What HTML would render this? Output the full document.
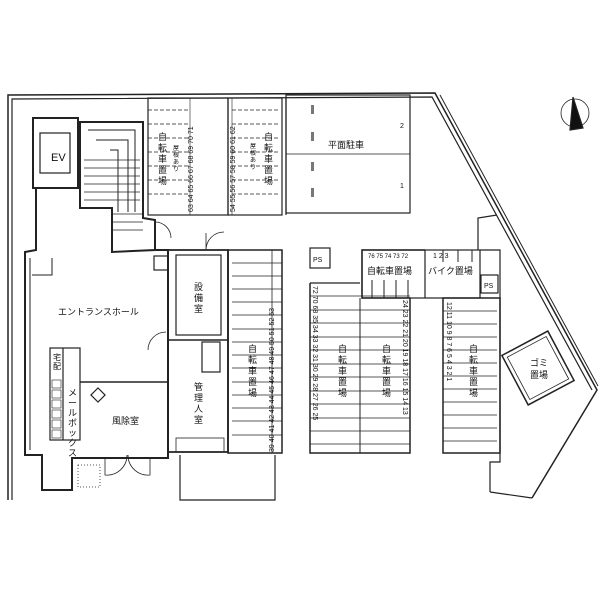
<!DOCTYPE html>
<html><head><meta charset="utf-8"><style>
html,body{margin:0;padding:0;background:#fff}
svg{display:block}
text{font-family:"Liberation Sans","Noto Sans CJK JP",sans-serif;fill:#111;stroke:none}
</style></head><body>
<svg width="600" height="600" viewBox="0 0 600 600" xmlns="http://www.w3.org/2000/svg" stroke="#222" fill="none" stroke-width="1.2">
<path d="M8,500 L8,95 L435,93 L597,390 L532,498" stroke-width="1.5"/>
<path d="M12,500 L12,99 L432,97 L592,390"/>
<path d="M440,95 L598,386" stroke-width="1"/>
<circle cx="575" cy="113" r="14" stroke-width="0.8"/>
<path d="M573,97 L583,128 L570,130 Z" fill="#111"/>
<!-- top bike area 1 -->
<rect x="148" y="98" width="80" height="117"/>
<g stroke-width="0.8" stroke-dasharray="4,2">
<line x1="148" y1="110" x2="190" y2="110"/><line x1="148" y1="124" x2="190" y2="124"/><line x1="148" y1="138" x2="190" y2="138"/><line x1="148" y1="152" x2="190" y2="152"/><line x1="148" y1="166" x2="190" y2="166"/><line x1="148" y1="180" x2="190" y2="180"/><line x1="148" y1="194" x2="190" y2="194"/>
<line x1="232" y1="110" x2="280" y2="110"/><line x1="232" y1="124" x2="280" y2="124"/><line x1="232" y1="138" x2="280" y2="138"/><line x1="232" y1="152" x2="280" y2="152"/><line x1="232" y1="166" x2="280" y2="166"/><line x1="232" y1="180" x2="280" y2="180"/><line x1="232" y1="194" x2="280" y2="194"/>
</g>
<line x1="190" y1="98" x2="190" y2="215" stroke-width="0.6"/>
<line x1="232" y1="98" x2="232" y2="215" stroke-width="0.6"/>
<rect x="228" y="98" width="54" height="117"/>
<line x1="286" y1="98" x2="286" y2="215"/>
<text x="158" y="140" font-size="9"><tspan x="158">自</tspan><tspan x="158" dy="11">転</tspan><tspan x="158" dy="11">車</tspan><tspan x="158" dy="11">置</tspan><tspan x="158" dy="11">場</tspan></text>
<text x="173" y="150" font-size="6"><tspan x="173">屋</tspan><tspan x="173" dy="7">根</tspan><tspan x="173" dy="7">あ</tspan><tspan x="173" dy="7">り</tspan></text>
<text x="264" y="140" font-size="9"><tspan x="264">自</tspan><tspan x="264" dy="11">転</tspan><tspan x="264" dy="11">車</tspan><tspan x="264" dy="11">置</tspan><tspan x="264" dy="11">場</tspan></text>
<text x="250" y="148" font-size="6"><tspan x="250">屋</tspan><tspan x="250" dy="7">根</tspan><tspan x="250" dy="7">あ</tspan><tspan x="250" dy="7">り</tspan></text>
<text transform="translate(193,212) rotate(-90)" font-size="7">63 64 65 66 67 68 69 70 71</text>
<text transform="translate(235,212) rotate(-90)" font-size="7">54 55 56 57 58 59 60 61 62</text>
<!-- parking -->
<rect x="286" y="95" width="124" height="118"/>
<line x1="286" y1="154" x2="410" y2="154" stroke-width="0.8"/>
<g fill="#777" stroke="none"><rect x="311" y="105" width="3" height="9"/><rect x="311" y="132" width="3" height="9"/><rect x="311" y="162" width="3" height="9"/><rect x="311" y="188" width="3" height="9"/></g>
<text x="328" y="148" font-size="9">平面駐車</text>
<text x="400" y="128" font-size="7">2</text>
<text x="400" y="188" font-size="7">1</text>
<!-- core -->
<rect x="33" y="118" width="45" height="70" stroke-width="2"/>
<rect x="40" y="133" width="30" height="40"/>
<text x="51" y="161" font-size="11">EV</text>
<path d="M80,122 L143,122 L143,218 L155,220 L155,250 L112,252 L112,208 L80,208 Z" stroke-width="2"/>
<path d="M88,130 L135,130 L135,212 M96,140 L128,140 L128,212 M110,150 L118,150 L118,212" stroke-width="1"/>
<g stroke-width="0.7"><line x1="84" y1="160" x2="140" y2="160"/><line x1="84" y1="168" x2="140" y2="168"/><line x1="84" y1="176" x2="140" y2="176"/><line x1="84" y1="184" x2="140" y2="184"/><line x1="84" y1="192" x2="140" y2="192"/><line x1="84" y1="200" x2="140" y2="200"/><line x1="112" y1="214" x2="143" y2="214"/><line x1="112" y1="222" x2="143" y2="222"/><line x1="112" y1="230" x2="143" y2="230"/></g>
<!-- hall -->
<path d="M36,188 L36,250 L25,252 L25,455 L42,455 L42,490 L72,490 L72,458 L168,458 L168,250 L155,250" stroke-width="2"/>
<path d="M30,258 L30,450 M52,258 L52,275 L32,275" stroke-width="1"/>
<text x="58" y="315" font-size="9">エントランスホール</text>
<rect x="50" y="348" width="30" height="92" stroke-width="1.2"/>
<line x1="63" y1="348" x2="63" y2="440"/>
<g stroke-width="0.6"><rect x="52" y="380" width="9" height="8"/><rect x="52" y="390" width="9" height="8"/><rect x="52" y="400" width="9" height="8"/><rect x="52" y="410" width="9" height="8"/><rect x="52" y="420" width="9" height="8"/><rect x="52" y="430" width="9" height="8"/></g>
<text x="53" y="360" font-size="8"><tspan x="53">宅</tspan><tspan x="53" dy="9">配</tspan></text>
<text x="68" y="396" font-size="9"><tspan x="68">メ</tspan><tspan x="68" dy="10">ー</tspan><tspan x="68" dy="10">ル</tspan><tspan x="68" dy="10">ボ</tspan><tspan x="68" dy="10">ッ</tspan><tspan x="68" dy="10">ク</tspan><tspan x="68" dy="10">ス</tspan></text>
<path d="M80,382 L168,382" stroke-width="1.5"/>
<rect x="93" y="390" width="10" height="10" transform="rotate(45 98 395)"/>
<text x="112" y="424" font-size="9">風除室</text>
<path d="M105,458 L105,475 A20,20 0 0 0 127,455 M150,458 L150,475 A20,20 0 0 1 128,455" stroke-width="0.8"/>
<rect x="78" y="465" width="22" height="22" stroke-width="0.8" stroke-dasharray="1,2"/>
<!-- rooms -->
<path d="M168,250 L228,250 L228,452 L168,452" stroke-width="1.8"/>
<rect x="176" y="255" width="45" height="80"/>
<text x="194" y="290" font-size="9"><tspan x="194">設</tspan><tspan x="194" dy="11">備</tspan><tspan x="194" dy="11">室</tspan></text>
<line x1="168" y1="340" x2="228" y2="340" stroke-width="1.5"/>
<rect x="202" y="342" width="18" height="30"/>
<text x="194" y="390" font-size="9"><tspan x="194">管</tspan><tspan x="194" dy="11">理</tspan><tspan x="194" dy="11">人</tspan><tspan x="194" dy="11">室</tspan></text>
<rect x="176" y="438" width="48" height="14" stroke-width="0.8"/>
<path d="M180,455 L180,500 L275,500 L275,455"/>
<path d="M148,350 A18,18 0 0 1 166,332 M206,233 L206,250 A18,18 0 0 1 224,232" stroke-width="0.8"/>
<path d="M155,222 A16,16 0 0 1 171,238" stroke-width="0.8"/>
<rect x="154" y="256" width="14" height="14"/>
<!-- bike area A -->
<rect x="228" y="250" width="54" height="203" stroke-width="1.5"/>
<line x1="272" y1="250" x2="272" y2="453" stroke-width="0.8"/>
<g stroke-width="0.8">
<line x1="232" y1="263" x2="282" y2="263"/><line x1="232" y1="276" x2="282" y2="276"/><line x1="232" y1="289" x2="282" y2="289"/><line x1="232" y1="302" x2="282" y2="302"/><line x1="232" y1="315" x2="282" y2="315"/><line x1="232" y1="329" x2="282" y2="329"/><line x1="232" y1="342" x2="282" y2="342"/><line x1="232" y1="355" x2="282" y2="355"/><line x1="232" y1="368" x2="282" y2="368"/><line x1="232" y1="382" x2="282" y2="382"/><line x1="232" y1="395" x2="282" y2="395"/><line x1="232" y1="408" x2="282" y2="408"/><line x1="232" y1="421" x2="282" y2="421"/><line x1="232" y1="435" x2="282" y2="435"/>
</g>
<text x="248" y="352" font-size="9"><tspan x="248">自</tspan><tspan x="248" dy="11">転</tspan><tspan x="248" dy="11">車</tspan><tspan x="248" dy="11">置</tspan><tspan x="248" dy="11">場</tspan></text>
<text transform="translate(274,452) rotate(-90)" font-size="7">39 40 41 42 43 44 45 46 47 48 49 50 51 52 53</text>
<!-- middle -->
<path d="M310,283 L310,453 L410,453 L410,298 L362,298 L362,250 L425,250" stroke-width="1.5"/>
<line x1="360" y1="298" x2="360" y2="453" stroke-width="1"/>
<line x1="310" y1="283" x2="360" y2="283"/>
<g stroke-width="0.8">
<line x1="310" y1="296" x2="410" y2="296"/><line x1="310" y1="310" x2="410" y2="310"/><line x1="310" y1="323" x2="410" y2="323"/><line x1="310" y1="337" x2="410" y2="337"/><line x1="310" y1="350" x2="410" y2="350"/><line x1="310" y1="364" x2="410" y2="364"/><line x1="310" y1="377" x2="410" y2="377"/><line x1="310" y1="391" x2="410" y2="391"/><line x1="310" y1="404" x2="410" y2="404"/><line x1="310" y1="418" x2="410" y2="418"/><line x1="310" y1="431" x2="410" y2="431"/><line x1="310" y1="444" x2="410" y2="444"/>
</g>
<rect x="310" y="248" width="20" height="20"/>
<text x="313" y="262" font-size="7">PS</text>
<text x="338" y="352" font-size="9"><tspan x="338">自</tspan><tspan x="338" dy="11">転</tspan><tspan x="338" dy="11">車</tspan><tspan x="338" dy="11">置</tspan><tspan x="338" dy="11">場</tspan></text>
<text x="382" y="352" font-size="9"><tspan x="382">自</tspan><tspan x="382" dy="11">転</tspan><tspan x="382" dy="11">車</tspan><tspan x="382" dy="11">置</tspan><tspan x="382" dy="11">場</tspan></text>
<text transform="translate(313,286) rotate(90)" font-size="7">72 70 68 35 34 33 32 31 30 29 28 27 26 25</text>
<text transform="translate(403,300) rotate(90)" font-size="7">24 23 22 21 20 19 18 17 16 15 14 13</text>
<!-- top bike/bike -->
<rect x="362" y="250" width="118" height="48" stroke-width="1.2"/>
<line x1="425" y1="250" x2="425" y2="298"/>
<g stroke-width="1"><line x1="372" y1="280" x2="372" y2="298"/><line x1="384" y1="280" x2="384" y2="298"/><line x1="396" y1="280" x2="396" y2="298"/><line x1="408" y1="280" x2="408" y2="298"/><line x1="443" y1="250" x2="443" y2="262"/><line x1="458" y1="250" x2="458" y2="262"/><line x1="472" y1="250" x2="472" y2="262"/></g>
<text x="367" y="274" font-size="9">自転車置場</text>
<text x="428" y="274" font-size="9">バイク置場</text>
<text x="368" y="258" font-size="6">76 75 74 73 72</text>
<text x="433" y="258" font-size="7">1    2    3</text>
<rect x="481" y="275" width="17" height="18"/>
<text x="484" y="288" font-size="7">PS</text>
<path d="M480,250 L500,250 L500,462 L490,462 L490,492" stroke-width="1.2"/>
<path d="M478,250 L478,218 L497,215"/>
<!-- right -->
<rect x="443" y="298" width="57" height="155" stroke-width="1.5"/>
<g stroke-width="0.8">
<line x1="443" y1="311" x2="497" y2="311"/><line x1="443" y1="324" x2="497" y2="324"/><line x1="443" y1="337" x2="497" y2="337"/><line x1="443" y1="350" x2="497" y2="350"/><line x1="443" y1="363" x2="497" y2="363"/><line x1="443" y1="376" x2="497" y2="376"/><line x1="443" y1="389" x2="497" y2="389"/><line x1="443" y1="402" x2="497" y2="402"/><line x1="443" y1="415" x2="497" y2="415"/><line x1="443" y1="428" x2="497" y2="428"/><line x1="443" y1="441" x2="497" y2="441"/>
</g>
<text x="469" y="352" font-size="9"><tspan x="469">自</tspan><tspan x="469" dy="11">転</tspan><tspan x="469" dy="11">車</tspan><tspan x="469" dy="11">置</tspan><tspan x="469" dy="11">場</tspan></text>
<text transform="translate(447,302) rotate(90)" font-size="7">12 11 10  9  8  7  6  5  4  3  2  1</text>
<path d="M490,492 L532,498"/>
<g transform="rotate(-28 538 368)">
<rect x="512" y="340" width="52" height="56" stroke-width="1.5"/>
<rect x="516" y="344" width="44" height="48" stroke-width="0.8"/>
</g>
<text x="530" y="366" font-size="9">ゴミ</text>
<text x="530" y="378" font-size="9">置場</text>
</svg>
</body></html>
